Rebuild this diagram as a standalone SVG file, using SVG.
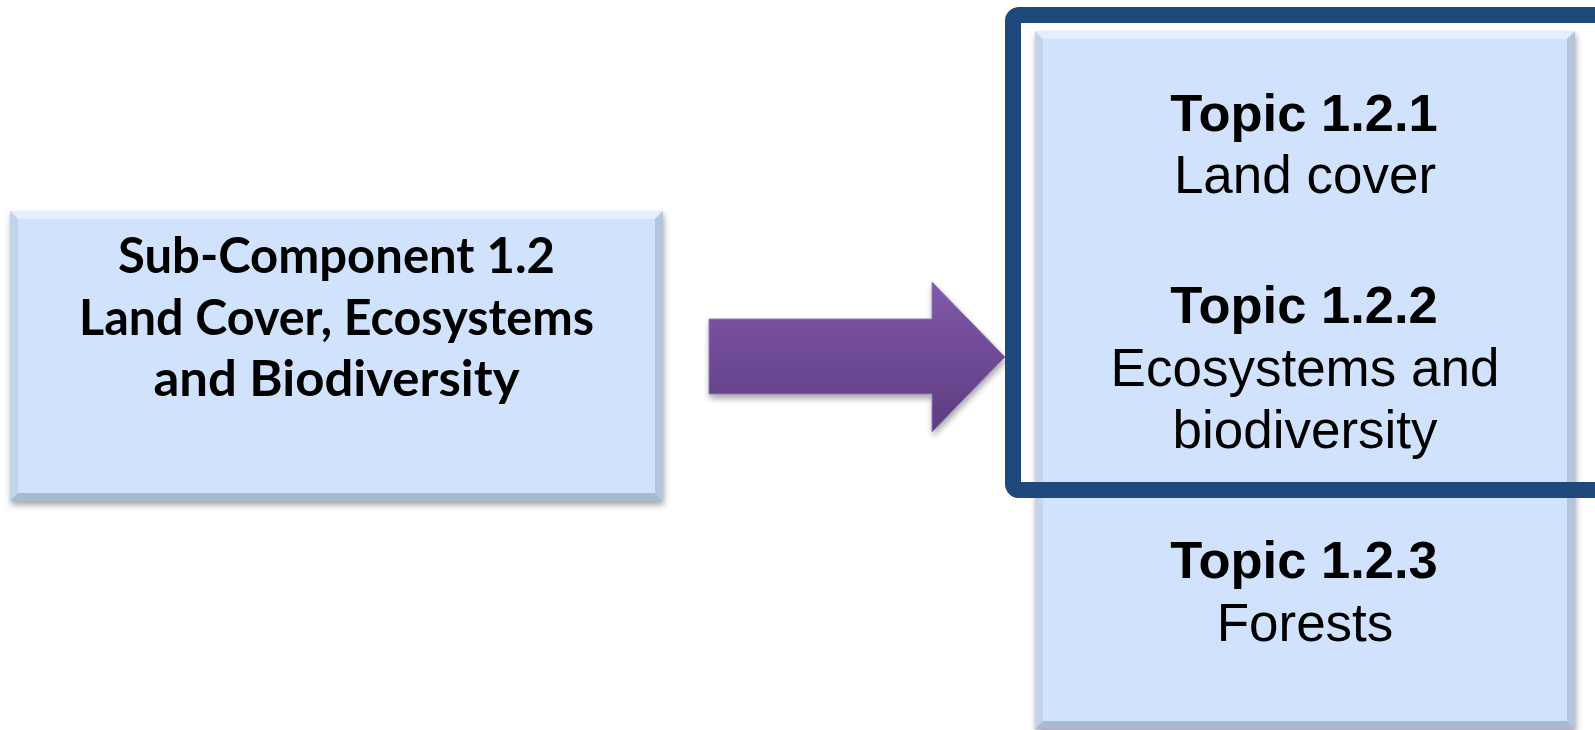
<svg xmlns="http://www.w3.org/2000/svg" width="1595" height="730" viewBox="0 0 1595 730">
<defs>
<style>
.box{fill:#D1E3FC}
.bt{fill:#E4EFFD}
.bl{fill:#C2D3EA}
.br{fill:#B3C4DB}
.bb{fill:#A9BAD0}
.calb{font-family:Lato,"Open Sans","Liberation Sans",sans-serif;font-weight:bold;font-size:49px;fill:#000;text-anchor:middle}
.tb{font-family:"Liberation Sans",Arial,sans-serif;font-weight:bold;font-size:52.5px;fill:#000;text-anchor:middle}
.tr{font-family:"Liberation Sans",Arial,sans-serif;font-size:53px;fill:#000;text-anchor:middle}
</style>
<linearGradient id="arrowGrad" x1="0" y1="0" x2="0" y2="1">
<stop offset="0" stop-color="#8159AA"/>
<stop offset="1" stop-color="#5C3C80"/>
</linearGradient>
<filter id="shadow" x="-10%" y="-10%" width="120%" height="130%">
<feDropShadow dx="1" dy="4" stdDeviation="3" flood-color="#000" flood-opacity="0.35"/>
</filter>
</defs>
<rect width="1595" height="730" fill="#FFFFFF"/>

<g id="node-subcomponent">
<g filter="url(#shadow)">
<rect class="box" x="10" y="211" width="653" height="290"/>
</g>
<polygon class="bt" points="10,211 663,211 655,219 18,219"/>
<polygon class="bl" points="10,211 18,219 18,493 10,501"/>
<polygon class="br" points="663,211 663,501 655,493 655,219"/>
<polygon class="bb" points="10,501 663,501 655,493 18,493"/>
<text class="calb" x="336.5" y="273" textLength="437" lengthAdjust="spacingAndGlyphs">Sub-Component 1.2</text>
<text class="calb" x="336.5" y="335" textLength="515" lengthAdjust="spacingAndGlyphs">Land Cover, Ecosystems</text>
<text class="calb" x="336.5" y="396" textLength="366" lengthAdjust="spacingAndGlyphs">and Biodiversity</text>
</g>

<g id="connectors">
<polygon points="709,319 932,319 932,282 1005,357 932,432 932,394 709,394" fill="url(#arrowGrad)" stroke="#9478B8" stroke-width="1" filter="url(#shadow)"/>
</g>

<g id="node-topics">
<g filter="url(#shadow)">
<rect class="box" x="1035" y="31" width="540" height="698"/>
</g>
<polygon class="bt" points="1035,31 1575,31 1567,39 1043,39"/>
<polygon class="bl" points="1035,31 1043,39 1043,721 1035,729"/>
<polygon class="br" points="1575,31 1575,729 1567,721 1567,39"/>
<polygon class="bb" points="1035,729 1575,729 1567,721 1043,721"/>
<g id="topic-1-2-1">
<text class="tb" x="1304" y="131">Topic 1.2.1</text>
<text class="tr" x="1305" y="193">Land cover</text>
</g>
<g id="topic-1-2-2">
<text class="tb" x="1304" y="323">Topic 1.2.2</text>
<text class="tr" x="1305" y="386">Ecosystems and</text>
<text class="tr" x="1305" y="448">biodiversity</text>
</g>
<g id="topic-1-2-3">
<text class="tb" x="1304" y="578">Topic 1.2.3</text>
<text class="tr" x="1305" y="641">Forests</text>
</g>
</g>

<g id="highlight-frame">
<rect x="1013" y="15" width="590" height="475" rx="6" ry="6" fill="none" stroke="#1F497D" stroke-width="16"/>
</g>
</svg>
